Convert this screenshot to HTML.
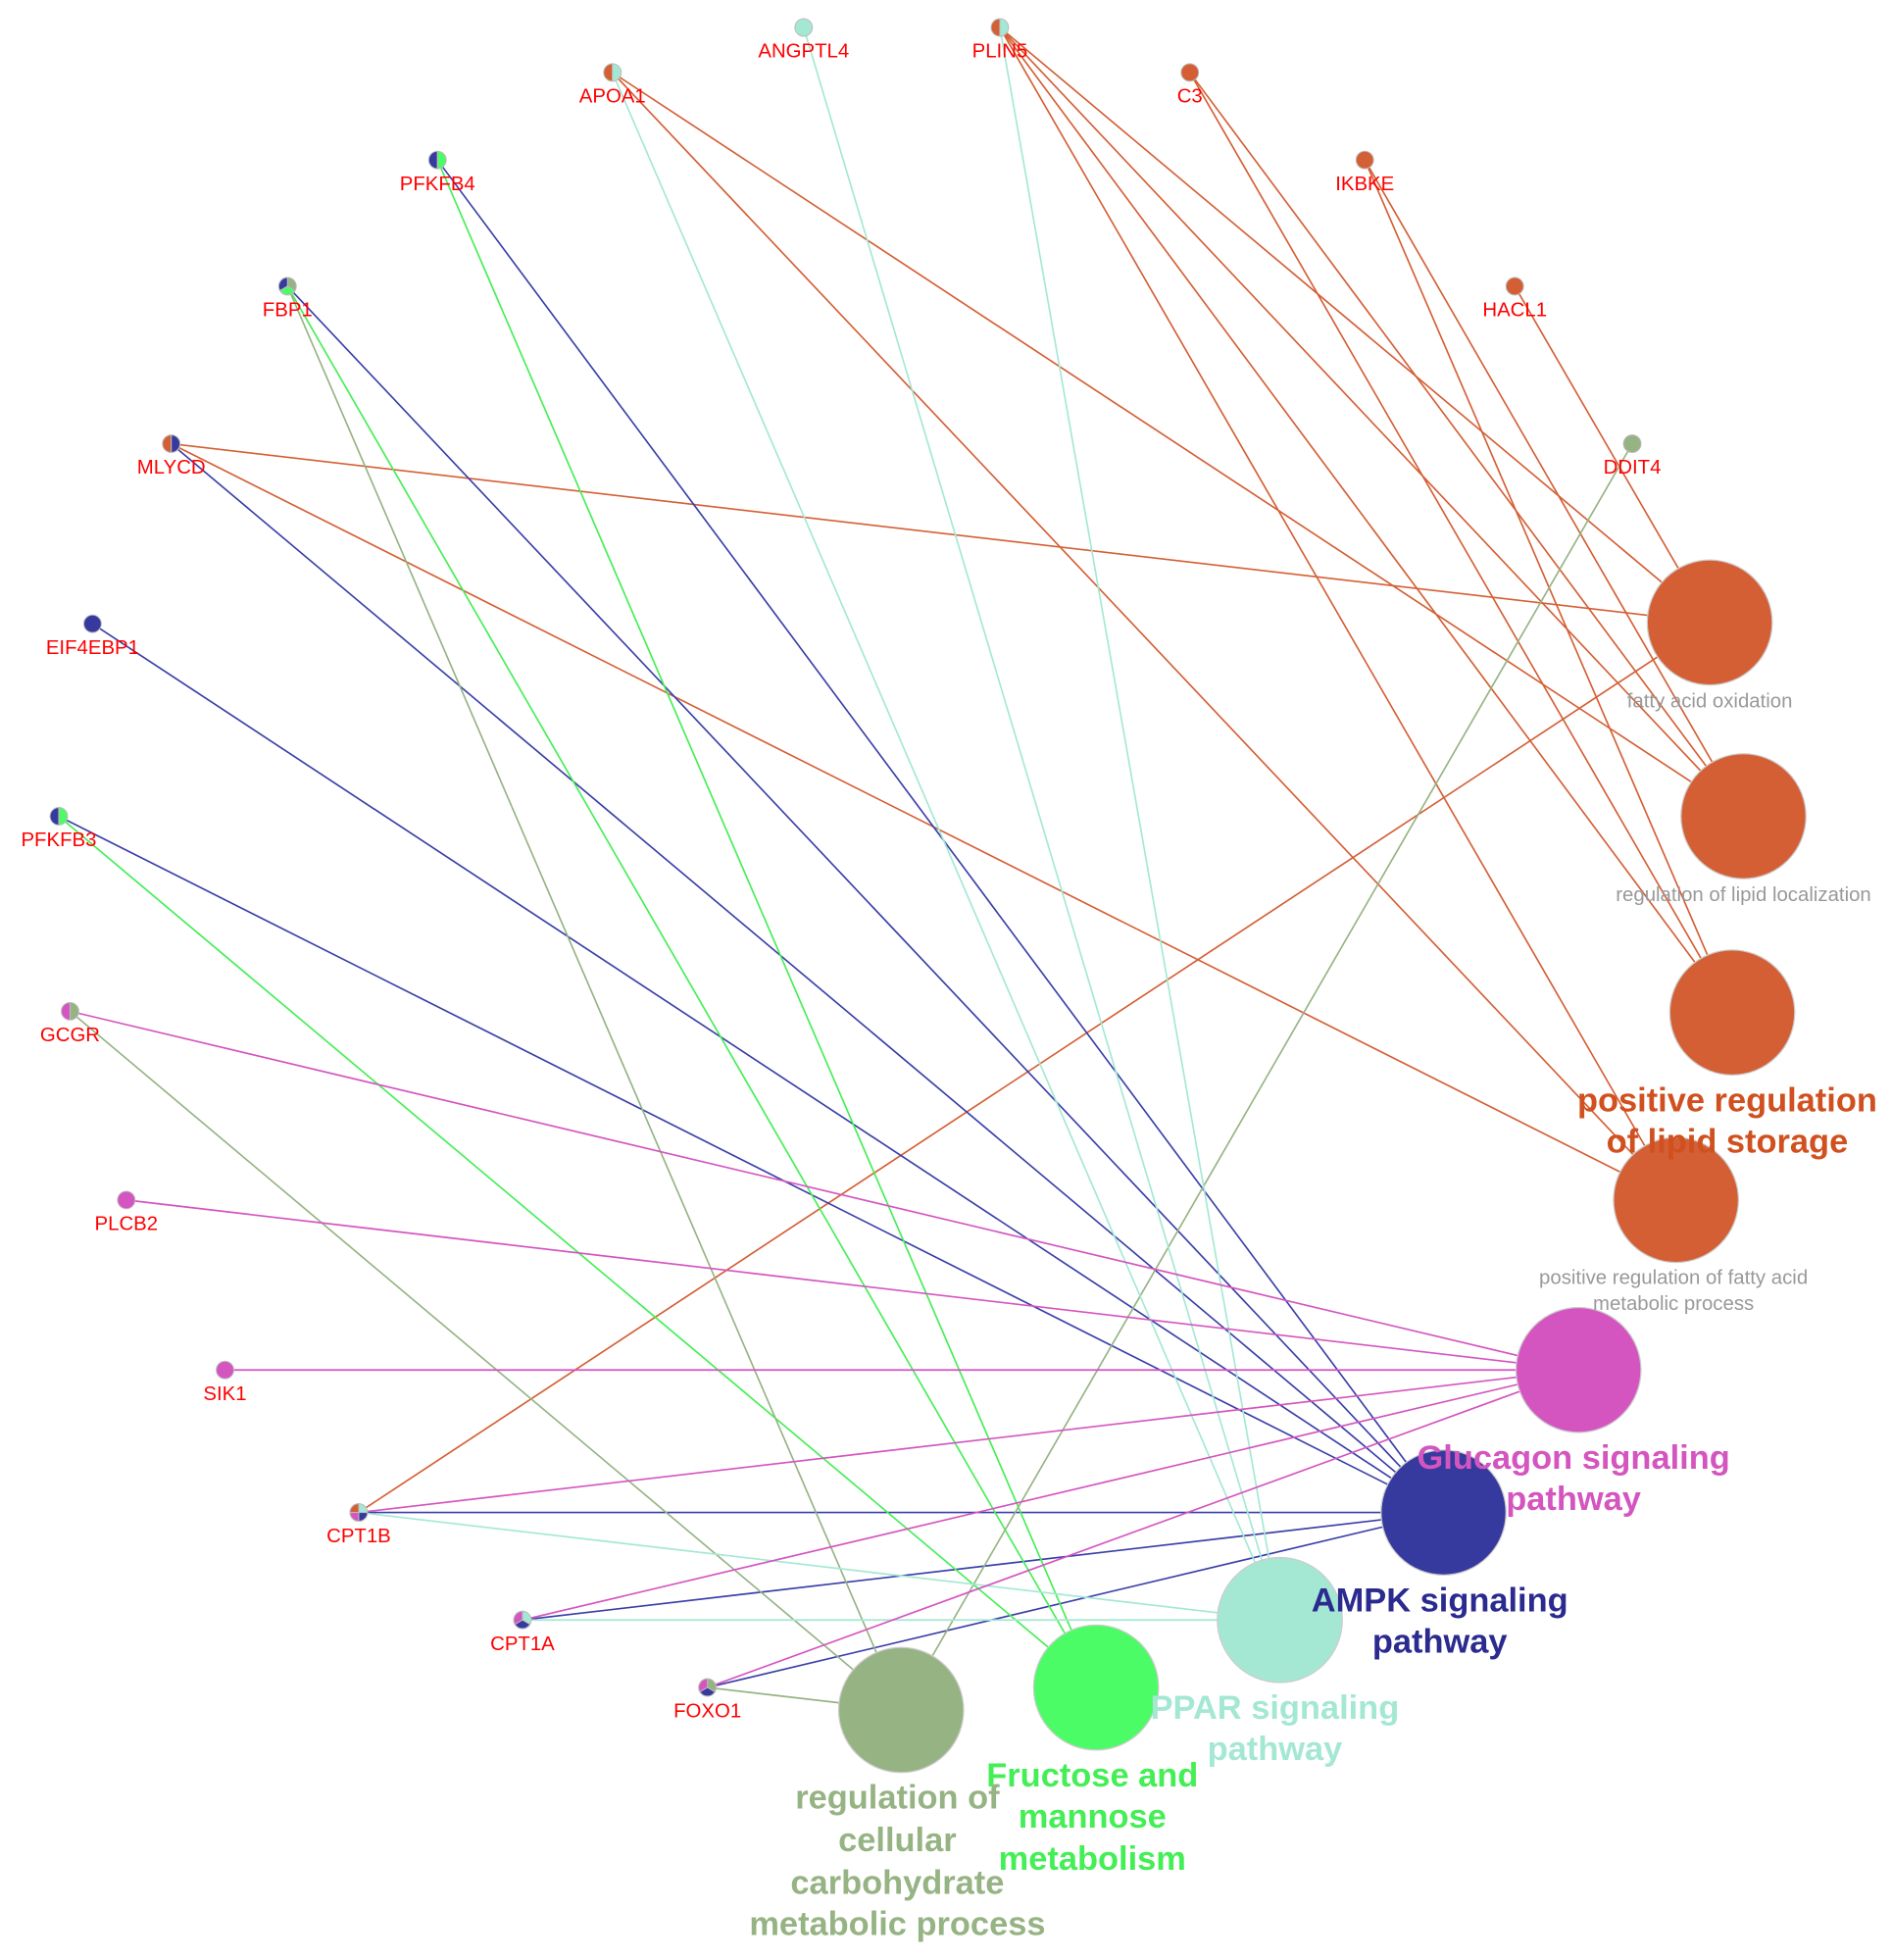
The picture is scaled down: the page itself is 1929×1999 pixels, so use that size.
<!DOCTYPE html>
<html><head><meta charset="utf-8"><style>
html,body{margin:0;padding:0;background:#fff;}
svg{display:block;}
text{font-family:"Liberation Sans",Arial,sans-serif;text-anchor:middle;}
.g{fill:#ff0000;font-size:16px;}
.s{fill:#999;font-size:16px;}
.b{font-size:27px;font-weight:bold;}
</style></head><body>
<svg width="1929" height="1999" viewBox="0 0 1513 1568" xmlns="http://www.w3.org/2000/svg">
<g stroke-width="1.3" fill="none">
<g stroke="#d45f35">
<line x1="137" y1="355" x2="1368" y2="498"/>
<line x1="287" y1="1210" x2="1368" y2="498"/>
<line x1="800" y1="22" x2="1368" y2="498"/>
<line x1="1212" y1="229" x2="1368" y2="498"/>
<line x1="800" y1="22" x2="1395" y2="653"/>
<line x1="800" y1="22" x2="1386" y2="810"/>
<line x1="800" y1="22" x2="1341" y2="960"/>
<line x1="952" y1="58" x2="1395" y2="653"/>
<line x1="952" y1="58" x2="1386" y2="810"/>
<line x1="1092" y1="128" x2="1395" y2="653"/>
<line x1="1092" y1="128" x2="1386" y2="810"/>
<line x1="490" y1="58" x2="1395" y2="653"/>
<line x1="490" y1="58" x2="1341" y2="960"/>
<line x1="137" y1="355" x2="1341" y2="960"/>
</g>
<g stroke="#3a3fa8">
<line x1="350" y1="128" x2="1155" y2="1210"/>
<line x1="230" y1="229" x2="1155" y2="1210"/>
<line x1="137" y1="355" x2="1155" y2="1210"/>
<line x1="74" y1="499" x2="1155" y2="1210"/>
<line x1="47" y1="653" x2="1155" y2="1210"/>
<line x1="287" y1="1210" x2="1155" y2="1210"/>
<line x1="418" y1="1296" x2="1155" y2="1210"/>
<line x1="566" y1="1350" x2="1155" y2="1210"/>
</g>
<g stroke="#44ee55">
<line x1="350" y1="128" x2="877" y2="1350"/>
<line x1="230" y1="229" x2="877" y2="1350"/>
<line x1="47" y1="653" x2="877" y2="1350"/>
</g>
<g stroke="#96b383">
<line x1="230" y1="229" x2="721" y2="1368"/>
<line x1="56" y1="809" x2="721" y2="1368"/>
<line x1="1306" y1="355" x2="721" y2="1368"/>
<line x1="566" y1="1350" x2="721" y2="1368"/>
</g>
<g stroke="#a4e8d4">
<line x1="643" y1="22" x2="1024" y2="1296"/>
<line x1="800" y1="22" x2="1024" y2="1296"/>
<line x1="490" y1="58" x2="1024" y2="1296"/>
<line x1="287" y1="1210" x2="1024" y2="1296"/>
<line x1="418" y1="1296" x2="1024" y2="1296"/>
</g>
<g stroke="#d455c0">
<line x1="56" y1="809" x2="1263" y2="1096"/>
<line x1="101" y1="960" x2="1263" y2="1096"/>
<line x1="180" y1="1096" x2="1263" y2="1096"/>
<line x1="287" y1="1210" x2="1263" y2="1096"/>
<line x1="418" y1="1296" x2="1263" y2="1096"/>
<line x1="566" y1="1350" x2="1263" y2="1096"/>
</g>
</g>

<g stroke="#ccc" stroke-width="1">
<circle cx="1368" cy="498" r="50" fill="#d45f35"/>
<circle cx="1395" cy="653" r="50" fill="#d45f35"/>
<circle cx="1386" cy="810" r="50" fill="#d45f35"/>
<circle cx="1341" cy="960" r="50" fill="#d45f35"/>
<circle cx="1263" cy="1096" r="50" fill="#d455c0"/>
<circle cx="1155" cy="1210" r="50" fill="#36399e"/>
<circle cx="1024" cy="1296" r="50" fill="#a4e8d4"/>
<circle cx="877" cy="1350" r="50" fill="#4cfc66"/>
<circle cx="721" cy="1368" r="50" fill="#96b383"/>
</g>

<g stroke="#bbb" stroke-width="0.8">
<circle cx="643" cy="22" r="7" fill="#a4e8d4"/>
<path d="M800 15 A7 7 0 0 0 800 29 Z" fill="#d45f35"/><path d="M800 15 A7 7 0 0 1 800 29 Z" fill="#a4e8d4"/>
<path d="M490 51 A7 7 0 0 0 490 65 Z" fill="#d45f35"/><path d="M490 51 A7 7 0 0 1 490 65 Z" fill="#a4e8d4"/>
<circle cx="952" cy="58" r="7" fill="#d45f35"/>
<circle cx="1092" cy="128" r="7" fill="#d45f35"/>
<path d="M350 121 A7 7 0 0 0 350 135 Z" fill="#36399e"/><path d="M350 121 A7 7 0 0 1 350 135 Z" fill="#4cfc66"/>
<circle cx="1212" cy="229" r="7" fill="#d45f35"/>
<circle cx="230" cy="229" r="7" fill="#96b383"/><path d="M230 229 L230 222 A7 7 0 0 0 224 232.5 Z" fill="#36399e"/><path d="M230 229 L224 232.5 A7 7 0 0 0 236 232.5 Z" fill="#4cfc66"/>
<circle cx="1306" cy="355" r="7" fill="#96b383"/>
<path d="M137 348 A7 7 0 0 0 137 362 Z" fill="#d45f35"/><path d="M137 348 A7 7 0 0 1 137 362 Z" fill="#36399e"/>
<circle cx="74" cy="499" r="7" fill="#36399e"/>
<path d="M47 646 A7 7 0 0 0 47 660 Z" fill="#36399e"/><path d="M47 646 A7 7 0 0 1 47 660 Z" fill="#4cfc66"/>
<path d="M56 802 A7 7 0 0 0 56 816 Z" fill="#d455c0"/><path d="M56 802 A7 7 0 0 1 56 816 Z" fill="#96b383"/>
<circle cx="101" cy="960" r="7" fill="#d455c0"/>
<circle cx="180" cy="1096" r="7" fill="#d455c0"/>
<circle cx="287" cy="1210" r="7" fill="#a4e8d4"/><path d="M287 1210 L287 1203 A7 7 0 0 0 280 1210 Z" fill="#d45f35"/><path d="M287 1210 L280 1210 A7 7 0 0 0 287 1217 Z" fill="#d455c0"/><path d="M287 1210 L287 1217 A7 7 0 0 0 294 1210 Z" fill="#36399e"/>
<circle cx="418" cy="1296" r="7" fill="#a4e8d4"/><path d="M418 1296 L418 1289 A7 7 0 0 0 412 1299.5 Z" fill="#d455c0"/><path d="M418 1296 L412 1299.5 A7 7 0 0 0 424 1299.5 Z" fill="#36399e"/>
<circle cx="566" cy="1350" r="7" fill="#96b383"/><path d="M566 1350 L566 1343 A7 7 0 0 0 560 1353.5 Z" fill="#d455c0"/><path d="M566 1350 L560 1353.5 A7 7 0 0 0 572 1353.5 Z" fill="#36399e"/>
</g>

<text class="g" x="643" y="46">ANGPTL4</text>
<text class="g" x="800" y="46">PLIN5</text>
<text class="g" x="490" y="82">APOA1</text>
<text class="g" x="952" y="82">C3</text>
<text class="g" x="1092" y="152">IKBKE</text>
<text class="g" x="350" y="152">PFKFB4</text>
<text class="g" x="1212" y="253">HACL1</text>
<text class="g" x="230" y="253">FBP1</text>
<text class="g" x="1306" y="379">DDIT4</text>
<text class="g" x="137" y="379">MLYCD</text>
<text class="g" x="74" y="523">EIF4EBP1</text>
<text class="g" x="47" y="677">PFKFB3</text>
<text class="g" x="56" y="833">GCGR</text>
<text class="g" x="101" y="984">PLCB2</text>
<text class="g" x="180" y="1120">SIK1</text>
<text class="g" x="287" y="1234">CPT1B</text>
<text class="g" x="418" y="1320">CPT1A</text>
<text class="g" x="566" y="1374">FOXO1</text>

<text class="s" x="1368" y="566">fatty acid oxidation</text>
<text class="s" x="1395" y="721">regulation of lipid localization</text>
<text class="s" x="1339" y="1027">positive regulation of fatty acid</text>
<text class="s" x="1339" y="1048">metabolic process</text>
<text class="b" x="1382" y="889" fill="#d0501f">positive regulation</text>
<text class="b" x="1382" y="922" fill="#d0501f">of lipid storage</text>
<text class="b" x="1259" y="1175" fill="#d455c0">Glucagon signaling</text>
<text class="b" x="1259" y="1208" fill="#d455c0">pathway</text>
<text class="b" x="1152" y="1289" fill="#2a2a8f">AMPK signaling</text>
<text class="b" x="1152" y="1322" fill="#2a2a8f">pathway</text>
<text class="b" x="1020" y="1375" fill="#a4e8d4">PPAR signaling</text>
<text class="b" x="1020" y="1408" fill="#a4e8d4">pathway</text>
<text class="b" x="874" y="1429" fill="#44ee55">Fructose and</text>
<text class="b" x="874" y="1462" fill="#44ee55">mannose</text>
<text class="b" x="874" y="1496" fill="#44ee55">metabolism</text>
<text class="b" x="718" y="1447" fill="#96b383">regulation of</text>
<text class="b" x="718" y="1481" fill="#96b383">cellular</text>
<text class="b" x="718" y="1515" fill="#96b383">carbohydrate</text>
<text class="b" x="718" y="1548" fill="#96b383">metabolic process</text>
</svg>
</body></html>
